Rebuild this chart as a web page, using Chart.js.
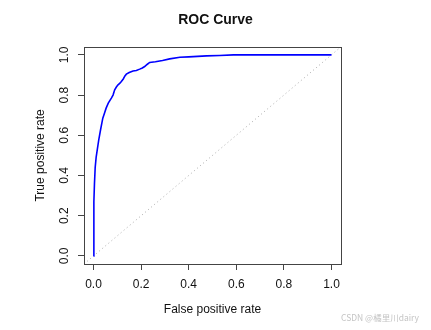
<!DOCTYPE html>
<html>
<head>
<meta charset="utf-8">
<script src="https://cdn.jsdelivr.net/npm/chart.js@4.4.1/dist/chart.umd.min.js"></script>
<style>
  html, body { margin: 0; padding: 0; background: #fff; }
</style>
</head>
<body>
<canvas id="roc" width="431" height="330"></canvas>
<script>
// ROC points
const fpr = [0, 0.001, 0.002, 0.004, 0.007, 0.011, 0.016, 0.022, 0.030, 0.039,
    0.046, 0.053, 0.062, 0.075, 0.082, 0.089, 0.096, 0.103, 0.110, 0.117,
    0.125, 0.132, 0.138, 0.150, 0.166, 0.180, 0.194, 0.205, 0.215, 0.225,
    0.236, 0.260, 0.290, 0.320, 0.363, 0.400, 0.475, 0.530, 0.588, 1.0];
const tpr = [0, 0.15, 0.27, 0.36, 0.44, 0.49, 0.53, 0.577, 0.63, 0.685,
    0.71, 0.735, 0.76, 0.785, 0.80, 0.826, 0.84, 0.851, 0.858, 0.867,
    0.88, 0.895, 0.904, 0.912, 0.920, 0.922, 0.929, 0.935, 0.942, 0.952,
    0.962, 0.966, 0.972, 0.980, 0.988, 0.990, 0.995, 0.997, 1.0, 1.0];
const diagonal = [-0.04, 1.04];
const tickValues = [0, 0.2, 0.4, 0.6, 0.8, 1.0];
const axisMin = -0.04;
const axisMax = 1.04;

const font = 'Liberation Sans';

const rPlot = {
    id: 'rPlot',
    afterDraw(chart) {
        const ctx = chart.ctx;
        const a = chart.chartArea;
        const y = chart.scales.y;
        ctx.save();
        // box()
        ctx.strokeStyle = '#444';
        ctx.lineWidth = 1;
        ctx.strokeRect(Math.round(a.left) + 0.5, Math.round(a.top) + 0.5,
            Math.round(a.right - a.left), Math.round(a.bottom - a.top));
        // vertical y tick labels like R
        ctx.fillStyle = '#111';
        ctx.font = '12px "' + font + '"';
        ctx.textAlign = 'center';
        ctx.textBaseline = 'middle';
        y.ticks.forEach(t => {
            const py = y.getPixelForValue(t.value);
            ctx.save();
            ctx.translate(65, py);
            ctx.rotate(-Math.PI / 2);
            ctx.fillText(t.value.toFixed(1), 0, 0);
            ctx.restore();
        });
        // watermark
        ctx.fillStyle = '#c4c4c4';
        ctx.font = '8.5px "Noto Sans CJK SC"';
        ctx.textAlign = 'right';
        ctx.fillText('CSDN @橘里川dairy', 419, 318);
        ctx.restore();
    }
};

new Chart(document.getElementById('roc'), {
    type: 'scatter',
    data: {
        datasets: [{
            label: 'ROC',
            data: fpr.map((v, i) => ({ x: v, y: tpr[i] })),
            showLine: true,
            borderColor: '#0000ff',
            borderWidth: 1.6,
            pointRadius: 0,
            tension: 0,
            order: 1
        }, {
            label: 'chance',
            data: diagonal.map(v => ({ x: v, y: v })),
            showLine: true,
            borderColor: '#aaaaaa',
            borderWidth: 1,
            borderDash: [1, 3],
            pointRadius: 0,
            order: 2
        }]
    },
    options: {
        responsive: false,
        animation: false,
        devicePixelRatio: 1,
        layout: { padding: 0 },
        plugins: {
            legend: { display: false },
            tooltip: { enabled: false },
            title: {
                display: true,
                text: 'ROC Curve',
                color: '#111',
                font: { family: font, size: 14, weight: 'bold' },
                padding: { top: 12, bottom: 18 }
            }
        },
        scales: {
            x: {
                type: 'linear',
                min: axisMin,
                max: axisMax,
                afterFit(scale) { scale.height = 66; },
                afterBuildTicks(scale) { scale.ticks = tickValues.map(v => ({ value: v })); },
                border: { display: false },
                grid: { drawOnChartArea: false, drawTicks: true, tickLength: 6, color: '#444' },
                ticks: {
                    color: '#111',
                    font: { family: font, size: 12 },
                    padding: 7,
                    maxRotation: 0,
                    callback: v => v.toFixed(1)
                },
                title: {
                    display: true,
                    text: 'False positive rate',
                    color: '#111',
                    font: { family: font, size: 12 },
                    padding: { top: 0, bottom: 13 }
                }
            },
            y: {
                type: 'linear',
                min: axisMin,
                max: axisMax,
                afterFit(scale) { scale.width = 84; },
                afterBuildTicks(scale) { scale.ticks = tickValues.map(v => ({ value: v })); },
                border: { display: false },
                grid: { drawOnChartArea: false, drawTicks: true, tickLength: 6, color: '#444' },
                ticks: { display: false },
                title: {
                    display: true,
                    text: 'True positive rate',
                    color: '#111',
                    font: { family: font, size: 12 },
                    padding: { top: 33, bottom: 0 }
                }
            },
            // empty right margin so the title centres on the whole figure
            margin: {
                type: 'linear',
                position: 'right',
                afterFit(scale) { scale.width = 90; },
                border: { display: false },
                grid: { display: false },
                ticks: { display: false }
            }
        }
    },
    plugins: [rPlot]
});
</script>
</body>
</html>
